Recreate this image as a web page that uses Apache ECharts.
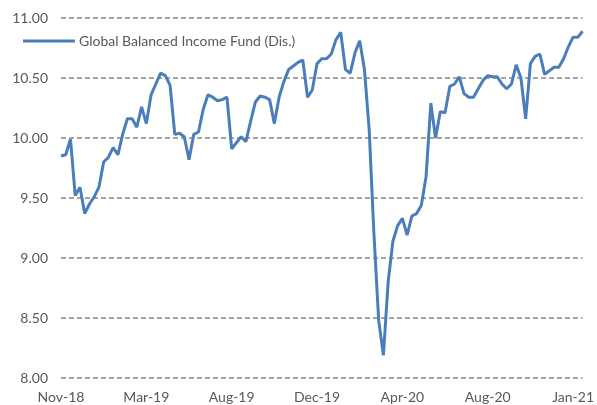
<!DOCTYPE html>
<html>
<head>
<meta charset="utf-8">
<script src="https://cdn.jsdelivr.net/npm/echarts@6/dist/echarts.min.js"></script>
<style>
  html, body { margin: 0; padding: 0; background: #fff; }
  #chart { width: 597px; height: 405px; }
</style>
</head>
<body>
<div id="chart"></div>
<script>
// weekly NAV, Nov-18 .. Jan-21
const seriesName = 'Global Balanced Income Fund (Dis.)'
const navValues = [
  9.85, 9.86, 9.99, 9.52, 9.59, 9.37, 9.45, 9.51, 9.59, 9.80,
  9.84, 9.92, 9.86, 10.03, 10.16, 10.16, 10.09, 10.26, 10.12, 10.36,
  10.45, 10.54, 10.52, 10.44, 10.03, 10.04, 10.01, 9.82, 10.03, 10.05,
  10.24, 10.36, 10.34, 10.31, 10.32, 10.34, 9.91, 9.96, 10.01, 9.97,
  10.14, 10.30, 10.35, 10.34, 10.32, 10.12, 10.34, 10.47, 10.57, 10.60,
  10.63, 10.65, 10.34, 10.40, 10.62, 10.66, 10.66, 10.70, 10.82, 10.88,
  10.57, 10.54, 10.71, 10.81, 10.57, 10.07, 9.20, 8.48, 8.19, 8.80,
  9.14, 9.27, 9.33, 9.19, 9.35, 9.37, 9.44, 9.68, 10.29, 10.00,
  10.22, 10.21, 10.43, 10.45, 10.51, 10.37, 10.34, 10.34, 10.41, 10.48,
  10.52, 10.51, 10.51, 10.45, 10.41, 10.45, 10.61, 10.50, 10.16, 10.62,
  10.68, 10.70, 10.53, 10.56, 10.59, 10.59, 10.66, 10.76, 10.84, 10.84, 10.89,
]
const tickLabels = ['Nov-18', 'Mar-19', 'Aug-19', 'Dec-19', 'Apr-20', 'Aug-20', 'Jan-21']
const labelStep = 18 // one label every 18 weeks
const weeks = navValues.map((v, i) => i)

const chart = echarts.init(document.getElementById('chart'))
const font = 'Lato, "Liberation Sans", sans-serif'
const textColor = '#595959'
chart.setOption({
  animation: false,
  textStyle: { fontFamily: font },
  grid: { left: 61, right: 9, top: 18, bottom: 27 },
  legend: {
    left: 23,
    top: 34,
    padding: 0,
    itemWidth: 52,
    itemHeight: 3,
    icon: 'rect',
    textStyle: { color: textColor, fontSize: 14, fontFamily: font, padding: [0, 0, 0, -1] },
    data: [seriesName],
  },
  xAxis: {
    type: 'category',
    boundaryGap: false,
    data: weeks,
    axisLine: { show: false },
    axisTick: { show: false },
    axisLabel: {
      interval: 0,
      color: textColor,
      fontSize: 14,
      margin: 12,
      formatter: (v, i) => (i % labelStep === 0 ? tickLabels[i / labelStep] || '' : ''),
    },
  },
  yAxis: {
    type: 'value',
    min: 8,
    max: 11,
    interval: 0.5,
    axisLine: { show: false },
    axisTick: { show: false },
    axisLabel: {
      color: textColor,
      fontSize: 14,
      margin: 13,
      formatter: v => v.toFixed(2),
    },
    splitLine: {
      lineStyle: { color: '#888888', width: 1.5, type: [5, 3] },
    },
  },
  series: [
    {
      name: seriesName,
      type: 'line',
      data: navValues,
      symbol: 'none',
      lineStyle: { color: '#4A7EBB', width: 3 },
      itemStyle: { color: '#4A7EBB' },
    },
  ],
})
</script>
</body>
</html>
